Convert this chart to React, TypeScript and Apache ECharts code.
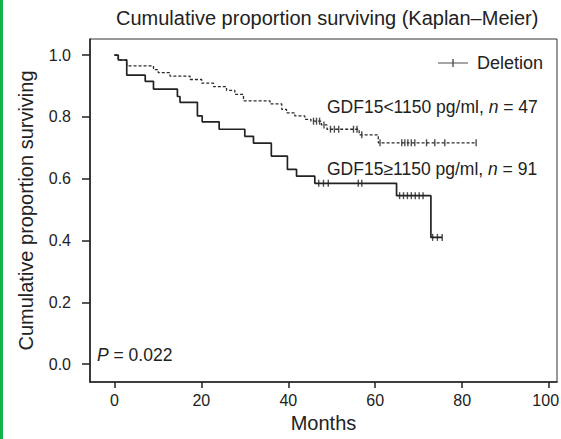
import React, { useEffect, useRef } from "react";
import * as echarts from "echarts";

const FONT = "'Liberation Sans', Arial, Helvetica, sans-serif";

// GDF15 < 1150 pg/ml (n = 47), dashed curve: event times (months) and survival after each step
const lowTimes = [0, 0.9, 2.85, 9.0, 10.1, 12.8, 17.4, 20.1, 22.8, 25.8, 27.7, 29.7, 35.8, 38.5, 39.6, 41.5, 43.8, 45.2, 47.6, 48.9, 56.3, 60.7, 83.2];
const lowSurv = [1.0, 0.984, 0.965, 0.953, 0.943, 0.932, 0.921, 0.909, 0.898, 0.886, 0.873, 0.852, 0.842, 0.824, 0.813, 0.803, 0.792, 0.786, 0.774, 0.76, 0.742, 0.716, 0.716];
const lowCensorTimes = [45.8, 46.5, 47.2, 48.2, 49.7, 50.6, 51.6, 55.0, 55.8, 56.9, 61.1, 66.1, 66.8, 67.5, 68.3, 69.1, 71.8, 73.7, 76.0, 83.2];

// GDF15 >= 1150 pg/ml (n = 91), solid curve
const highTimes = [0, 0.9, 2.85, 7.1, 9.0, 14.5, 15.1, 19.1, 20.2, 24.1, 30.0, 32.0, 36.1, 39.8, 41.9, 46.1, 64.9, 72.8, 75.4];
const highSurv = [1.0, 0.984, 0.935, 0.915, 0.89, 0.866, 0.847, 0.803, 0.784, 0.76, 0.737, 0.715, 0.673, 0.63, 0.608, 0.585, 0.545, 0.41, 0.41];
const highCensorTimes = [47.0, 48.1, 49.2, 56.1, 56.9, 65.6, 66.5, 67.4, 68.3, 69.2, 70.1, 71.0, 73.2, 74.3, 75.4];

const xTicks = [0, 20, 40, 60, 80, 100];
const yTicks = [0, 0.2, 0.4, 0.6, 0.8, 1.0];

const labelLow = "GDF15<1150 pg/ml, ";
const labelHigh = "GDF15\u22651150 pg/ml, ";
const nLow = " = 47";
const nHigh = " = 91";
const pValue = " = 0.022";

function survAt(times: number[], surv: number[], t: number): number {
  let v = surv[0];
  for (let i = 0; i < times.length; i++) {
    if (times[i] <= t) v = surv[i];
  }
  return v;
}

export default function App() {
  const ref = useRef<HTMLDivElement>(null);
  useEffect(() => {
    if (!ref.current) return;
    const chart = echarts.init(ref.current, undefined, { renderer: "svg" });
    const ink = "#222";
    const richText = (size: number) => ({
      a: { fontSize: size, fontFamily: FONT, fill: ink, color: ink },
      i: { fontSize: size, fontFamily: FONT, fill: ink, color: ink, fontStyle: "italic" },
    });
    const option: any = {
      animation: false,
      backgroundColor: "#ffffff",
      textStyle: { fontFamily: FONT, color: ink },
      title: {
        text: "Cumulative proportion surviving (Kaplan\u2013Meier)",
        left: 116,
        top: 8,
        padding: 0,
        textStyle: { fontSize: 20, fontWeight: "normal", color: ink, fontFamily: FONT },
      },
      legend: {
        data: [{ name: "Deletion", icon: "path://M0,3.4L30,3.4L30,4.6L0,4.6Z M14.3,0L15.7,0L15.7,8L14.3,8Z" }],
        left: 438,
        top: 54,
        padding: 0,
        itemWidth: 30,
        itemHeight: 8,
        selectedMode: false,
        textStyle: { fontSize: 18, color: ink, fontFamily: FONT, padding: [0, 0, 0, 4] },
      },
      grid: {
        left: 90,
        top: 39,
        right: 4,
        bottom: 57,
        show: true,
        borderColor: "#333",
        borderWidth: 1,
        containLabel: false,
        outerBoundsMode: "none",
      },
      xAxis: {
        type: "value",
        min: -5.6,
        max: 101.8,
        name: "Months",
        nameLocation: "middle",
        nameGap: 28,
        nameTextStyle: { fontSize: 20, color: ink, fontFamily: FONT },
        axisLine: { show: true, onZero: false, lineStyle: { color: ink, width: 1.6 } },
        axisTick: { show: true, length: 6, customValues: xTicks, lineStyle: { color: ink, width: 1.5 } },
        axisLabel: {
          customValues: xTicks,
          margin: 10,
          fontSize: 16,
          color: ink,
          fontFamily: FONT,
          formatter: (v: number) => (v === 100 ? `{r|${v}}` : `${v}`),
          rich: { r: { fontSize: 16, color: ink, fontFamily: FONT, padding: [0, 7, 0, 0] } },
        },
        splitLine: { show: false },
      },
      yAxis: {
        type: "value",
        min: -0.058,
        max: 1.052,
        name: "Cumulative proportion surviving",
        nameLocation: "middle",
        nameGap: 54,
        nameTextStyle: { fontSize: 20, color: ink, fontFamily: FONT },
        axisLine: { show: true, onZero: false, lineStyle: { color: ink, width: 1.6 } },
        axisTick: { show: true, length: 8, customValues: yTicks, lineStyle: { color: ink, width: 1.5 } },
        axisLabel: {
          customValues: yTicks,
          margin: 19,
          fontSize: 16,
          color: ink,
          fontFamily: FONT,
          formatter: (v: number) => v.toFixed(1),
        },
        splitLine: { show: false },
      },
      series: [
        {
          type: "line",
          name: "GDF15<1150",
          step: "end",
          showSymbol: false,
          silent: true,
          data: lowTimes.map((t, i) => [t, lowSurv[i]]),
          lineStyle: { color: "#2a2a2a", width: 1.3, type: [3, 2] },
          itemStyle: { color: "#2a2a2a" },
        },
        {
          type: "line",
          name: "GDF15\u22651150",
          step: "end",
          showSymbol: false,
          silent: true,
          data: highTimes.map((t, i) => [t, highSurv[i]]),
          lineStyle: { color: ink, width: 1.7, type: "solid" },
          itemStyle: { color: ink },
        },
        {
          type: "scatter",
          name: "Deletion",
          silent: true,
          symbol: "rect",
          symbolSize: [1.4, 7],
          itemStyle: { color: ink },
          data: lowCensorTimes.map((t) => [t, survAt(lowTimes, lowSurv, t)]),
        },
        {
          type: "scatter",
          name: "Deletion",
          silent: true,
          symbol: "rect",
          symbolSize: [1.4, 7],
          itemStyle: { color: ink },
          data: highCensorTimes.map((t) => [t, survAt(highTimes, highSurv, t)]),
        },
      ],
      graphic: [
        { type: "rect", left: 0, top: 0, shape: { width: 3, height: 439 }, style: { fill: "#14b24b" }, silent: true },
        {
          type: "text",
          x: 327,
          y: 107,
          style: {
            text: `{a|${labelLow}}{i|n}{a|${nLow}}`,
            rich: richText(17.5),
            fontSize: 17.5,
            fontFamily: FONT,
            fill: ink,
            verticalAlign: "middle",
          },
        },
        {
          type: "text",
          x: 327,
          y: 169,
          style: {
            text: `{a|${labelHigh}}{i|n}{a|${nHigh}}`,
            rich: richText(17.5),
            fontSize: 17.5,
            fontFamily: FONT,
            fill: ink,
            verticalAlign: "middle",
          },
        },
        {
          type: "text",
          x: 97,
          y: 355,
          style: {
            text: `{i|P}{a|${pValue}}`,
            rich: richText(17.5),
            fontSize: 17.5,
            fontFamily: FONT,
            fill: ink,
            verticalAlign: "middle",
          },
        },
      ],
    };
    chart.setOption(option);
    return () => chart.dispose();
  }, []);
  return <div ref={ref} style={{ position: "fixed", left: 0, top: 0, width: 561, height: 439, background: "#fff" }} />;
}
